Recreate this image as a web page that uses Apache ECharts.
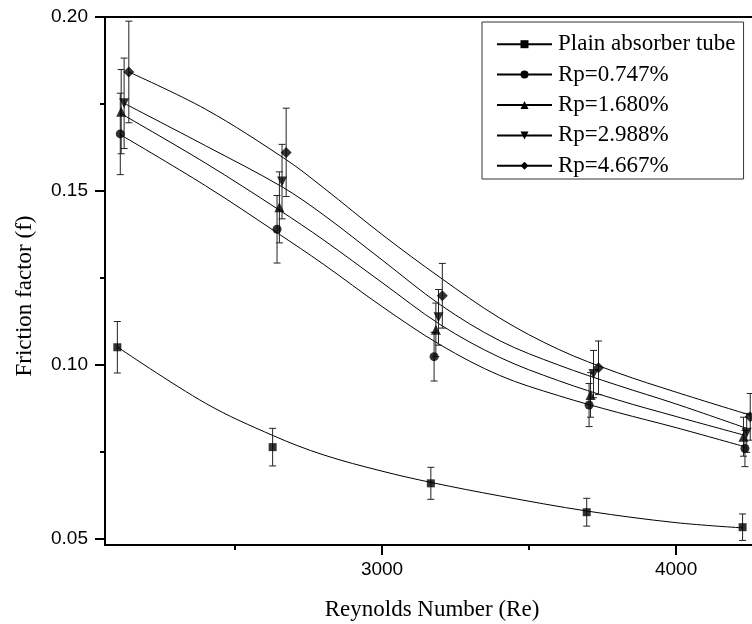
<!DOCTYPE html>
<html>
<head>
<meta charset="utf-8">
<script src="https://cdn.jsdelivr.net/npm/echarts@6/dist/echarts.min.js"></script>
<style>html,body{margin:0;padding:0;background:#fff;}#c{width:752px;height:624px;}</style>
</head>
<body>
<div id="c"></div>
<script>
// ---- data ----
const seriesNames = ['Plain absorber tube', 'Rp=0.747%', 'Rp=1.680%', 'Rp=2.988%', 'Rp=4.667%'];

const plainRe = [2100, 2628, 3166, 3696, 4226];
const plainF = [0.1051, 0.0764, 0.0660, 0.0577, 0.0534];
const plainErr = [0.0074, 0.0054, 0.0046, 0.0040, 0.0038];

const rp0747Re = [2110, 2643, 3177, 3704, 4234];
const rp0747F = [0.1664, 0.1390, 0.1024, 0.0885, 0.0760];
const rp0747Err = [0.0117, 0.0097, 0.0070, 0.0062, 0.0052];

const rp1680Re = [2113, 2651, 3183, 3709, 4229];
const rp1680F = [0.1728, 0.1453, 0.1101, 0.0914, 0.0794];
const rp1680Err = [0.0121, 0.0102, 0.0077, 0.0064, 0.0056];

const rp2988Re = [2123, 2660, 3192, 3719, 4240];
const rp2988F = [0.1752, 0.1527, 0.1137, 0.0974, 0.0805];
const rp2988Err = [0.0130, 0.0107, 0.0080, 0.0068, 0.0056];

const rp4667Re = [2139, 2674, 3205, 3736, 4252];
const rp4667F = [0.1842, 0.1611, 0.1199, 0.0992, 0.0851];
const rp4667Err = [0.0146, 0.0127, 0.0093, 0.0077, 0.0067];

// fitted curves
const plainFitRe = [2100, 2400, 2630, 2800, 3000, 3170, 3400, 3700, 4000, 4226];
const plainFitF = [0.1052, 0.0890, 0.0797, 0.0742, 0.0695, 0.0662, 0.0624, 0.0580, 0.0547, 0.0532];

const rp0747FitRe = [2110, 2400, 2643, 2800, 3000, 3200, 3400, 3600, 3800, 4000, 4234];
const rp0747FitF = [0.1662, 0.1515, 0.1380, 0.1290, 0.1168, 0.1057, 0.0970, 0.0912, 0.0864, 0.0820, 0.0765];

const rp1680FitRe = [2113, 2400, 2651, 2800, 3000, 3200, 3400, 3600, 3800, 4000, 4229];
const rp1680FitF = [0.1722, 0.1580, 0.1445, 0.1360, 0.1237, 0.1115, 0.1022, 0.0955, 0.0900, 0.0852, 0.0799];

const rp2988FitRe = [2123, 2400, 2660, 2800, 3000, 3200, 3400, 3600, 3800, 4000, 4240];
const rp2988FitF = [0.1752, 0.1630, 0.1512, 0.1432, 0.1302, 0.1172, 0.1070, 0.1000, 0.0942, 0.0888, 0.0818];

const rp4667FitRe = [2139, 2400, 2674, 2800, 3000, 3200, 3400, 3600, 3800, 4000, 4252];
const rp4667FitF = [0.1842, 0.1735, 0.1590, 0.1510, 0.1375, 0.1250, 0.1135, 0.1045, 0.0978, 0.0922, 0.0856];

const xMajorTicks = [3000, 4000];
const xMinorTicks = [2500, 3500];
const yMajorTicks = [0.05, 0.10, 0.15, 0.20];
const yMinorTicks = [0.075, 0.125, 0.175];

// ---- chart ----
const zip = (a, b) => a.map((v, i) => [v, b[i]]);
const zip3 = (a, b, c) => a.map((v, i) => [v, b[i], c[i]]);

const markerDefs = [
  {re: plainRe, f: plainF, err: plainErr, fitRe: plainFitRe, fitF: plainFitF, symbol: 'rect', size: 8, rot: 0},
  {re: rp0747Re, f: rp0747F, err: rp0747Err, fitRe: rp0747FitRe, fitF: rp0747FitF, symbol: 'circle', size: 9, rot: 0},
  {re: rp1680Re, f: rp1680F, err: rp1680Err, fitRe: rp1680FitRe, fitF: rp1680FitF, symbol: 'triangle', size: 10, rot: 0},
  {re: rp2988Re, f: rp2988F, err: rp2988Err, fitRe: rp2988FitRe, fitF: rp2988FitF, symbol: 'triangle', size: 10, rot: 180},
  {re: rp4667Re, f: rp4667F, err: rp4667Err, fitRe: rp4667FitRe, fitF: rp4667FitF, symbol: 'diamond', size: 11, rot: 0}
];

const series = [];
markerDefs.forEach((d, i) => {
  series.push({
    name: seriesNames[i],
    type: 'line',
    xAxisIndex: 0, yAxisIndex: 0,
    data: zip(d.fitRe, d.fitF),
    smooth: 0.35,
    showSymbol: false,
    symbol: d.symbol,
    symbolRotate: d.rot,
    lineStyle: {color: '#000', width: 1},
    itemStyle: {color: '#000'},
    silent: true,
    z: 2
  });
});
markerDefs.forEach((d, i) => {
  series.push({
    name: seriesNames[i] + ' error',
    type: 'custom',
    xAxisIndex: 0, yAxisIndex: 0,
    data: zip3(d.re, d.f, d.err),
    renderItem: function (params, api) {
      const x = api.value(0), y = api.value(1), e = api.value(2);
      const top = api.coord([x, y + e]);
      const bot = api.coord([x, y - e]);
      const hw = 3.5;
      const st = {stroke: '#222', lineWidth: 1};
      return {
        type: 'group',
        children: [
          {type: 'line', shape: {x1: top[0], y1: top[1], x2: bot[0], y2: bot[1]}, style: st},
          {type: 'line', shape: {x1: top[0] - hw, y1: top[1], x2: top[0] + hw, y2: top[1]}, style: st},
          {type: 'line', shape: {x1: bot[0] - hw, y1: bot[1], x2: bot[0] + hw, y2: bot[1]}, style: st}
        ]
      };
    },
    clip: false,
    silent: true,
    z: 3
  });
});
markerDefs.forEach((d, i) => {
  series.push({
    name: seriesNames[i] + ' data',
    type: 'scatter',
    xAxisIndex: 0, yAxisIndex: 0,
    data: zip(d.re, d.f),
    symbol: d.symbol,
    symbolSize: d.size,
    symbolRotate: d.rot,
    itemStyle: {color: '#000'},
    silent: true,
    z: 4
  });
});

const X_MIN = 2058, X_MAX = 4258, Y_MIN = 0.04828, Y_MAX = 0.20;

const option = {
  animation: false,
  backgroundColor: '#fff',
  grid: {left: 105, right: 0, top: 17, bottom: 79, containLabel: false},
  xAxis: [
    {
      type: 'value', position: 'bottom', min: X_MIN, max: X_MAX,
      axisLine: {show: true, lineStyle: {color: '#000', width: 2}},
      axisTick: {show: true, inside: false, length: 10, lineStyle: {color: '#000', width: 2}, customValues: xMajorTicks},
      axisLabel: {show: true, customValues: xMajorTicks, margin: 15, color: '#000', fontFamily: 'Liberation Sans', fontSize: 19,
        formatter: v => String(Math.round(v))},
      splitLine: {show: false}
    },
    {
      type: 'value', position: 'bottom', min: X_MIN, max: X_MAX,
      axisLine: {show: false},
      axisTick: {show: true, inside: false, length: 5, lineStyle: {color: '#000', width: 2}, customValues: xMinorTicks},
      axisLabel: {show: false},
      splitLine: {show: false}
    },
    {
      type: 'value', position: 'top', min: X_MIN, max: X_MAX,
      axisLine: {show: true, lineStyle: {color: '#000', width: 2}},
      axisTick: {show: false},
      axisLabel: {show: false},
      splitLine: {show: false}
    }
  ],
  yAxis: [
    {
      type: 'value', position: 'left', min: Y_MIN, max: Y_MAX,
      axisLine: {show: true, lineStyle: {color: '#000', width: 2}},
      axisTick: {show: true, inside: false, length: 10, lineStyle: {color: '#000', width: 2}, customValues: yMajorTicks},
      axisLabel: {show: true, customValues: yMajorTicks, margin: 17, color: '#000', fontFamily: 'Liberation Sans', fontSize: 19,
        formatter: v => v.toFixed(2)},
      splitLine: {show: false}
    },
    {
      type: 'value', position: 'left', min: Y_MIN, max: Y_MAX,
      axisLine: {show: false},
      axisTick: {show: true, inside: false, length: 5, lineStyle: {color: '#000', width: 2}, customValues: yMinorTicks},
      axisLabel: {show: false},
      splitLine: {show: false}
    }
  ],
  legend: {
    data: seriesNames,
    orient: 'vertical',
    left: 482, top: 22,
    padding: [10, 8, 1, 14],
    itemGap: 6,
    itemWidth: 55,
    itemHeight: 10,
    borderColor: '#333',
    borderWidth: 1,
    borderRadius: 0,
    backgroundColor: '#fff',
    textStyle: {color: '#000', fontFamily: 'Liberation Serif', fontSize: 23, lineHeight: 24.4, padding: [0, 0, 0, 1]},
    selectedMode: false
  },
  graphic: [
    {type: 'text', style: {text: 'Reynolds Number (Re)', textAlign: 'center', textVerticalAlign: 'middle', fontFamily: 'Liberation Serif', fontSize: 23, fill: '#000'}, x: 432, y: 610},
    {type: 'text', style: {text: 'Friction factor (f)', textAlign: 'center', textVerticalAlign: 'middle', fontFamily: 'Liberation Serif', fontSize: 23, fill: '#000'}, x: 25, y: 296, rotation: Math.PI / 2}
  ],
  series: series
};

const chart = echarts.init(document.getElementById('c'), null, {renderer: 'canvas'});
chart.setOption(option);
</script>
</body>
</html>
